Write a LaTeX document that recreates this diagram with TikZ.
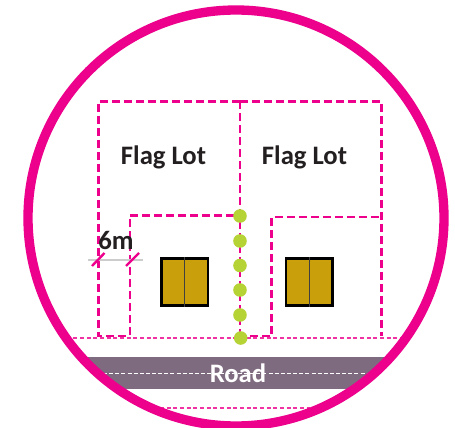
\documentclass[tikz,border=0pt]{standalone}
\usepackage{fontspec}
\setmainfont{Carlito}
\definecolor{ring}{HTML}{EC008C}
\definecolor{gold}{HTML}{C9A00C}
\definecolor{roadc}{HTML}{7F6B80}
\definecolor{dotc}{HTML}{B5D334}
\definecolor{inkc}{HTML}{231F20}
\begin{document}
\begin{tikzpicture}[x=0.75pt,y=-0.75pt,
  lot/.style={draw=ring,line width=2.2pt,dash pattern=on 6pt off 3pt},
  thin dash/.style={draw=ring!80,line width=1pt,dash pattern=on 3pt off 2pt},
  house/.style={draw=black,line width=2.1pt,fill=gold,inner sep=0pt,anchor=north west,minimum width=35pt,minimum height=35pt},
  dotn/.style={circle,fill=dotc,inner sep=0pt,minimum size=10.2pt},
  tick/.style={draw=ring,line width=1.8pt},
  label/.style={text=inkc,inner sep=0pt,font=\bfseries\fontsize{20}{22}\selectfont}]
\useasboundingbox (0,0) rectangle (455,428);
\fill[white] (0,0) rectangle (455,428);
% road, clipped to the circle
\begin{scope}
  \clip (236,218) circle[radius=208];
  \fill[roadc] (0,357) rectangle (455,389);
  \draw[white,line width=0.6pt,dash pattern=on 3pt off 1.6pt] (103,373) -- (370,373);
  \draw[thin dash] (160,408) -- (310,408);
  \draw[thin dash] (60,338) -- (410,338);
\end{scope}
% lots
\draw[lot] (240,101.5) -- (98.5,101.5) -- (98.5,336) -- (130,336) -- (130,215.7) -- (240,215.7);
\draw[lot] (240,101.5) -- (381.6,101.5) -- (381.6,336);
\draw[lot] (240,101.5) -- (240,338);
\draw[lot] (250,336) -- (271.7,336) -- (271.7,217) -- (381.6,217);
% dimension
\draw[black!20,line width=0.8pt] (88,260) -- (143,260);
\draw[tick] (92,266) -- (104.5,253);
\draw[tick] (126,266) -- (139,253);
% houses
\node[house] (h1) at (160,257.3) {};
\node[house] (h2) at (284.6,257.3) {};
\draw[black!75,line width=0.7pt] (h1.north) -- (h1.south);
\draw[black!75,line width=0.7pt] (h2.north) -- (h2.south);
% dots
\foreach \n/\y in {a/216,b/241,c/265.5,d/290,e/315}
  \node[dotn] (\n) at (240,\y) {};
\node[dotn] (f) at (240.7,338) {};
% ring
\draw[ring,line width=7pt] (236,218) circle[radius=208];
% text
\node[label] (l1) at (163.5,157) {Flag Lot};
\node[label] (l2) at (304.5,157) {Flag Lot};
\node[label] (m) at (116,240.5) {6m};
\node[label,text=white] (r) at (238,373) {Road};
\end{tikzpicture}
\end{document}
